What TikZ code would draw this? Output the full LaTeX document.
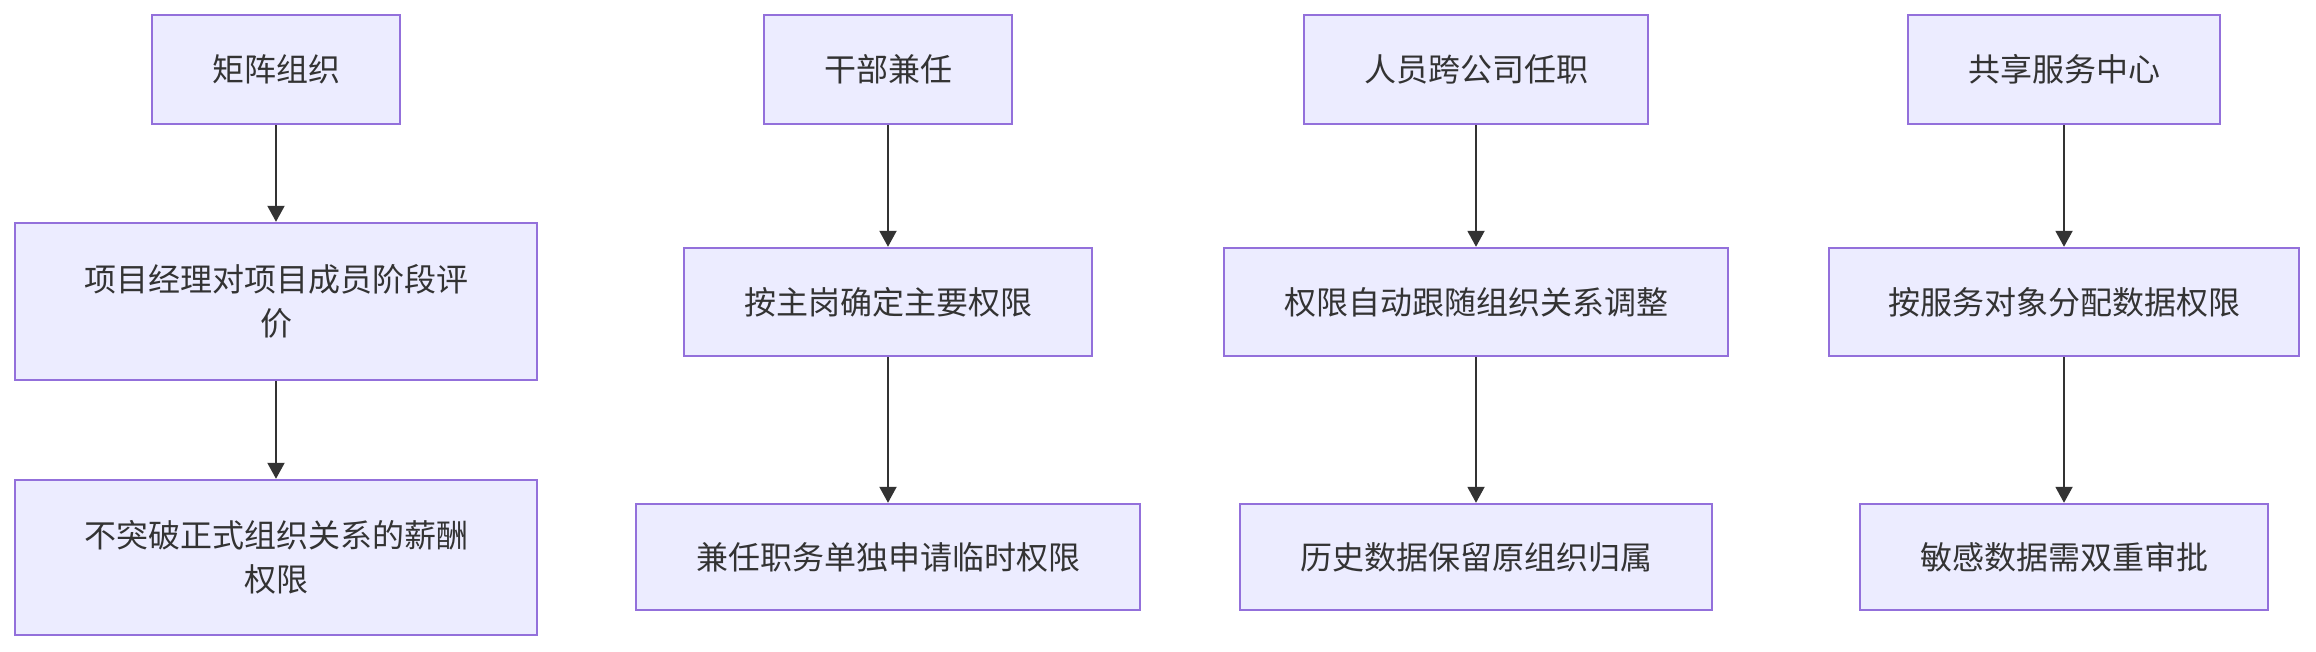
\documentclass[tikz,border=0pt]{standalone}
\usepackage{fontspec}
\setmainfont{Noto Sans CJK SC}
\usetikzlibrary{arrows.meta}
\definecolor{boxfill}{HTML}{ECECFF}
\definecolor{boxdraw}{HTML}{9370DB}
\definecolor{txtcol}{HTML}{333333}
\definecolor{linecol}{HTML}{333333}
\begin{document}
\begin{tikzpicture}[x=0.5pt,y=-0.5pt,
  box/.style={draw=boxdraw, fill=boxfill, line width=1.2pt, text=txtcol,
    font=\fontsize{16pt}{22pt}\selectfont, align=center, inner sep=0pt,
    rectangle},
  flow/.style={draw=linecol, line width=1pt, -{Triangle[length=8pt,width=8.5pt]}}]
\useasboundingbox (0,0) rectangle (2316,652);
% column A
\node[box, minimum width=124pt, minimum height=54.5pt] (a1) at (276,69.5) {矩阵组织};
\node[box, minimum width=261pt, minimum height=78.5pt] (a2) at (276,301.5) {项目经理对项目成员阶段评\\价};
\node[box, minimum width=261pt, minimum height=77.5pt] (a3) at (276,557.5) {不突破正式组织关系的薪酬\\权限};
% column B
\node[box, minimum width=124pt, minimum height=54.5pt] (b1) at (888,69.5) {干部兼任};
\node[box, minimum width=204pt, minimum height=54pt] (b2) at (888,302) {按主岗确定主要权限};
\node[box, minimum width=252pt, minimum height=53pt] (b3) at (888,557) {兼任职务单独申请临时权限};
% column C
\node[box, minimum width=172pt, minimum height=54.5pt] (c1) at (1476,69.5) {人员跨公司任职};
\node[box, minimum width=252pt, minimum height=54pt] (c2) at (1476,302) {权限自动跟随组织关系调整};
\node[box, minimum width=236pt, minimum height=53pt] (c3) at (1476,557) {历史数据保留原组织归属};
% column D
\node[box, minimum width=156pt, minimum height=54.5pt] (d1) at (2064,69.5) {共享服务中心};
\node[box, minimum width=235pt, minimum height=54pt] (d2) at (2064,302) {按服务对象分配数据权限};
\node[box, minimum width=204pt, minimum height=53pt] (d3) at (2064,557) {敏感数据需双重审批};
% connectors
\draw[flow] (a1) -- (a2);
\draw[flow] (a2) -- (a3);
\draw[flow] (b1) -- (b2);
\draw[flow] (b2) -- (b3);
\draw[flow] (c1) -- (c2);
\draw[flow] (c2) -- (c3);
\draw[flow] (d1) -- (d2);
\draw[flow] (d2) -- (d3);
\end{tikzpicture}
\end{document}
